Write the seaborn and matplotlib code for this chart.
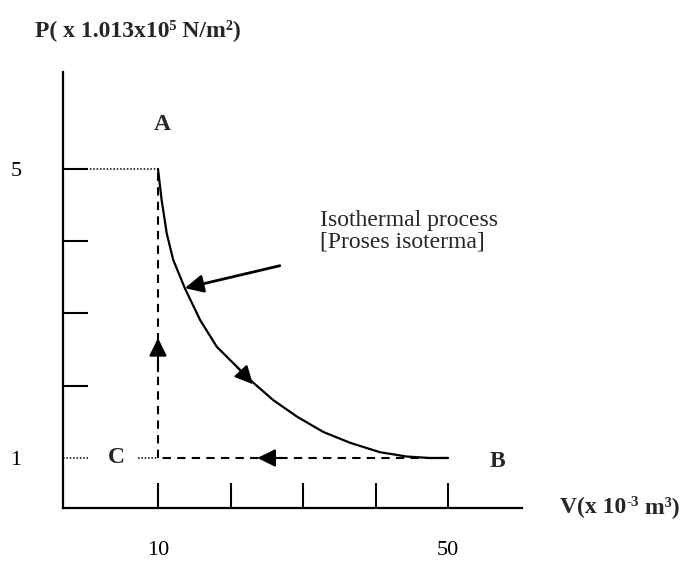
"""
P-V diagram: isothermal expansion A -> B, isobaric compression B -> C,
isochoric heating C -> A.
"""

import numpy as np
import pandas as pd
import matplotlib
matplotlib.use("Agg")
import matplotlib.pyplot as plt
import seaborn as sns

# isothermal curve A -> B
curve_v = [10.0, 10.5, 11.2, 12.1, 13.7, 15.8, 18.1, 20.9, 22.7, 25.9,
           29.2, 32.8, 36.5, 40.6, 44.3, 47.5, 50.0]
curve_p = [5.0, 4.57, 4.11, 3.74, 3.35, 2.91, 2.54, 2.26, 2.08, 1.80,
           1.57, 1.36, 1.21, 1.08, 1.02, 1.0, 1.0]

# states
state_names = ["A", "B", "C"]
state_v = [10, 50, 10]
state_p = [5, 1, 1]

x_ticks = [10, 20, 30, 40, 50]
x_tick_labels = ["10", "", "", "", "50"]
y_ticks = [1, 2, 3, 4, 5]
y_tick_labels = ["1", "", "", "", "5"]

sns.set_style("white")
plt.rcParams["font.family"] = ["Liberation Serif", "DejaVu Serif"]

W, H = 682, 567
fig = plt.figure(figsize=(W / 100, H / 100), dpi=100)
# axes box in pixels: x 63..522, y 72..508
ax = fig.add_axes([63 / W, (H - 508) / H, (522 - 63) / W, (508 - 72) / H])
ax.set_xlim(-3.1, 60.2)
ax.set_ylim(0.308, 6.34)

curve = pd.DataFrame({"V": curve_v, "P": curve_p})
sns.lineplot(data=curve, x="V", y="P", sort=False, color="black", lw=1.6, ax=ax)

vA, vB, vC = state_v
pA, pB, pC = state_p
x0 = ax.get_xlim()[0]

# dotted guides to the P axis (broken around the C label)
dots = dict(color="black", lw=1.1, ls=(0, (1, 1.2)))
ax.plot([x0, vA], [pA, pA], **dots)
ax.plot([x0, 0.3], [pC, pC], **dots)
ax.plot([7.2, vC], [pC, pC], **dots)

# B -> C and C -> A dashed
ax.plot([vB, vC], [pB, pC], color="black", lw=1.5, ls=(0, (4, 3)))
ax.plot([vC, vA], [pC, pA], color="black", lw=1.5, ls=(0, (4, 3)))

head = dict(arrowstyle="-|>,head_length=0.55,head_width=0.27", color="black",
            lw=1.5, shrinkA=0, shrinkB=0, mutation_scale=20)
ax.annotate("", xy=(vC, 2.66), xytext=(vC, 2.2), arrowprops=head)
ax.annotate("", xy=(23.7, pB), xytext=(27.0, pB), arrowprops=head)
ax.annotate("", xy=(23.1, 2.02), xytext=(20.9, 2.26), arrowprops=head)

# label arrow for the isothermal process
ax.annotate("", xy=(13.7, 3.35), xytext=(26.8, 3.66),
            arrowprops=dict(head, lw=2))
ax.text(32.3, 4.14, "Isothermal process\n[Proses isoterma]", fontsize=17,
        ha="left", va="center", linespacing=1.0)

# state letters
label_pos = {"A": (10.55, 5.61), "B": (56.8, 0.95), "C": (4.3, 1.0)}
for name in state_names:
    lx, ly = label_pos[name]
    ax.text(lx, ly, name, fontsize=17, fontweight="bold", ha="center",
            va="center")

ax.set_xticks(x_ticks, x_tick_labels)
ax.set_yticks(y_ticks, y_tick_labels)
ax.tick_params(axis="both", direction="in", length=18, width=1.5,
               colors="black", labelsize=16, left=True, bottom=True)
ax.tick_params(axis="y", pad=30)
ax.tick_params(axis="x", pad=24)
# the P = 1 mark is only the dotted guide
ax.yaxis.get_major_ticks()[0].tick1line.set_visible(False)
ax.set_xlabel("")
ax.set_ylabel("")
sns.despine(ax=ax)
for side in ["left", "bottom"]:
    ax.spines[side].set_color("black")
    ax.spines[side].set_linewidth(1.6)

fig.text(35 / W, 1 - 30 / H, "P( x 1.013x10\u2075 N/m\u00b2)",
         fontsize=17, fontweight="bold", ha="left", va="center")

# V label built in pieces so the exponent uses a short hyphen
bold = dict(fontsize=17, fontweight="bold")
t1 = fig.text(560 / W, 1 - 518 / H, "V(x 10", ha="left", va="bottom", **bold)
t2 = ax.annotate("-3", xy=(1, 0.42), xycoords=t1, ha="left", va="bottom",
                 fontsize=11, fontweight="bold", annotation_clip=False)
ax.annotate(" m\u00b3)", xy=(1, 0), xycoords=(t2, t1), ha="left",
            va="bottom", annotation_clip=False, **bold)

fig.savefig("out.png", dpi=100)
